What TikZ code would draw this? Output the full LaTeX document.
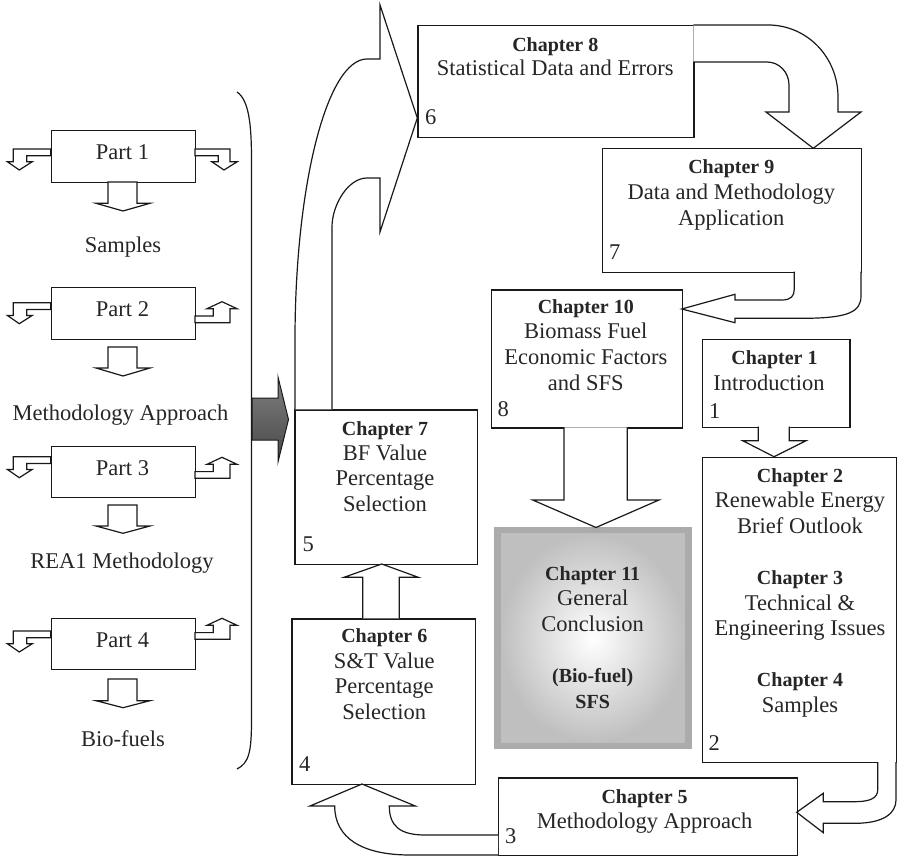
\documentclass[tikz,border=0pt]{standalone}
\usepackage{fontspec}
\setmainfont{Liberation Serif}
\usetikzlibrary{calc}
\newcommand\regf{\fontsize{22.5}{26}\selectfont}
\newcommand\hdf{\fontsize{20}{26}\selectfont\bfseries}
\tikzset{
  ln/.style={draw=black!90, line width=1.2pt},
  boxn/.style={ln, fill=white, inner sep=0pt, anchor=north west},
  arr/.style={ln, fill=white},
  tx/.style={anchor=base, inner sep=0pt, text=black!85, font=\regf},
  hd/.style={anchor=base, inner sep=0pt, text=black!85, font=\hdf},
  num/.style={anchor=base west, inner sep=0pt, text=black!85, font=\regf},
}
\newcommand\partleft[1]{%
  \draw[arr] (50.7,#1) -- (13.3,#1) -- (13.3,#1+12.7) -- (7.3,#1+12.7) -- (19.3,#1+21) -- (32.3,#1+12.7) -- (26.7,#1+12.7) -- (26.7,#1+6.7) -- (50.7,#1+6.7) -- cycle;}
\newcommand\partrightup[1]{%
  \draw[arr] (195,#1) -- (230,#1) -- (230,#1-14) -- (237,#1-14) -- (222,#1-21) -- (207,#1-14) -- (213.3,#1-14) -- (213.3,#1-6.7) -- (195,#1-6.7) -- cycle;}
\newcommand\partdown[3]{%
  \draw[arr] (108,#1) -- (108,#2) -- (96,#2) -- (123,#3) -- (150,#2) -- (137,#2) -- (137,#1) -- cycle;}
\begin{document}
\begin{tikzpicture}[x=1pt,y=-1pt]
\useasboundingbox (0,0) rectangle (898,856);

% ---------- left column: parts ----------
\node[boxn, minimum width=144.3pt, minimum height=52pt] (p1) at (50.7,130) {};
\node[boxn, minimum width=144.3pt, minimum height=52pt] (p2) at (50.7,287) {};
\node[boxn, minimum width=144.3pt, minimum height=51pt] (p3) at (50.7,446) {};
\node[boxn, minimum width=144.3pt, minimum height=51pt] (p4) at (50.7,618) {};
\node[tx] (p1t) at (122.5,159.3) {Part 1};
\node[tx] (p2t) at (122.5,316.5) {Part 2};
\node[tx] (p3t) at (122.5,475) {Part 3};
\node[tx] (p4t) at (122.5,647.3) {Part 4};

\partleft{149}
\partleft{302.7}
\partleft{456.7}
\partleft{631}
\draw[arr] (195,149) -- (230,149) -- (230,161.7) -- (237.3,161.7) -- (224,170) -- (211.7,161.7) -- (218.3,161.7) -- (218.3,155.7) -- (195,155.7) -- cycle;
\partrightup{322.7}
\partrightup{478.3}
\partrightup{639.3}
\partdown{182}{203.3}{211}
\partdown{347}{368}{376}
\partdown{505}{526}{533.3}
\partdown{679}{700.7}{707.7}

\node[tx] (l1) at (123,252) {Samples};
\node[tx] (l2) at (120.5,420) {Methodology Approach};
\node[tx] (l3) at (122,568) {REA1 Methodology};
\node[tx] (l4) at (123,746) {Bio-fuels};

% brace
\draw[ln] (237,92) .. controls (249,100) and (251.5,125) .. (251.5,160) -- (251.5,720) .. controls (251.5,752) and (249,763) .. (237,769);

% dark arrow
\shade[top color=black!50, bottom color=black!72, draw=black!90, line width=1pt]
  (252,398) -- (278,398) -- (278,377) -- (288.5,419.5) -- (278,462) -- (278,440) -- (252,440) -- cycle;

% ---------- chapter boxes ----------
\node[boxn, minimum width=276pt, minimum height=112.3pt] (c8) at (417.3,25) {};
\node[boxn, minimum width=259.5pt, minimum height=123.4pt] (c9) at (601.5,148.3) {};
\node[boxn, minimum width=191pt, minimum height=138pt] (c10) at (490.7,289.3) {};
\node[boxn, minimum width=147.6pt, minimum height=87.7pt] (c1) at (701.7,339) {};
\node[boxn, minimum width=194.3pt, minimum height=305.3pt] (c2) at (701.7,456.7) {};
\node[boxn, minimum width=182.7pt, minimum height=154.7pt] (c7) at (294.3,409.3) {};
\node[boxn, minimum width=183.9pt, minimum height=165.7pt] (c6) at (291.3,618.3) {};
\node[boxn, minimum width=298.7pt, minimum height=77.7pt] (c5) at (498,777.3) {};
\node[anchor=north west, inner sep=0pt, minimum width=197.3pt, minimum height=222.3pt, fill=black!33] (c11) at (494,526.7) {};
\shade[inner color=white, outer color=black!25] ($(c11.north west)+(7,7)$) rectangle ($(c11.south east)+(-7,-7)$);

% ---------- block arrows ----------
% 7 -> 8
\draw[arr] (295,409.3) -- (295,340) .. controls (295,185) and (327,59) .. (367,59) -- (380,59) -- (380,5) -- (417.3,118) -- (380,232) -- (380,178) -- (367,178) .. controls (348,178) and (332,205) .. (332,227) -- (332,409.3);
% 8 -> 9
\draw[arr] (693.3,25) -- (768,25) .. controls (807,25) and (838,57) .. (838,97) -- (838,112) -- (861,112) -- (813.3,148.3) -- (766,112) -- (789,112) -- (789,85) .. controls (789,72) and (779,62) .. (767,62) -- (693.3,62);
% 9 -> 10
\draw[arr] (861,271.7) -- (861,296) .. controls (861,312) and (848,318) .. (805,318.3) -- (735,318.3) -- (735,322.7) -- (681.7,309) -- (735,294.3) -- (735,300) -- (782,300) .. controls (791,300) and (794.3,296) .. (794.3,289) -- (794.3,271.7);
% 1 -> 2
\draw[arr] (758.3,426.7) -- (758.3,440.7) -- (742.7,440.7) -- (774,456.7) -- (806,440.7) -- (789.3,440.7) -- (789.3,426.7);
% 10 -> 11
\draw[arr] (564,427.3) -- (564,500) -- (532.7,500) -- (596,527.5) -- (659,500) -- (627.3,500) -- (627.3,427.3);
% 6 -> 7
\draw[arr] (362.7,618.3) -- (362.7,577.3) -- (344,577.3) -- (381.7,564) -- (418.3,577.3) -- (399.3,577.3) -- (399.3,618.3);
% 2 -> 5
\draw[arr] (877.7,762) -- (877.7,790) .. controls (877.7,798) and (870,801.7) .. (855,801.7) -- (823.3,801.7) -- (823.3,793.3) -- (796.7,812.3) -- (823.3,832.7) -- (823.3,823.3) -- (855,823.3) .. controls (884,823.3) and (896,813) .. (896,800) -- (896,762);
% 5 -> 6
\draw[arr] (498,835) -- (425,835) .. controls (400,835) and (389.3,826) .. (389.3,806) -- (415.3,806) -- (362,784) -- (310,806) -- (334.7,806) .. controls (334.7,838) and (362,855) .. (410,855) -- (498,855);

% ---------- texts ----------
\node[hd] (t8a) at (555.3,51.7) {Chapter 8};
\node[tx] (t8b) at (555.3,76) {Statistical Data and Errors};
\node[num] (n6) at (425,125) {6};

\node[hd] (t9a) at (731.3,174) {Chapter 9};
\node[tx] (t9b) at (731.3,199.6) {Data and Methodology};
\node[tx] (t9c) at (731.3,225.2) {Application};
\node[num] (n7) at (609,260) {7};

\node[hd] (t10a) at (585.8,313.3) {Chapter 10};
\node[tx] (t10b) at (585.8,338.9) {Biomass Fuel};
\node[tx] (t10c) at (585.8,364.5) {Economic Factors};
\node[tx] (t10d) at (585.8,390.1) {and SFS};
\node[num] (n8) at (497.5,416.7) {8};

\node[hd] (t1a) at (774.5,364) {Chapter 1};
\node[tx] (t1b) at (769,390) {Introduction};
\node[num] (n1) at (709,418.3) {1};

\node[hd] (t2a) at (800,482) {Chapter 2};
\node[tx] (t2b) at (800,507.6) {Renewable Energy};
\node[tx] (t2c) at (800,533.2) {Brief Outlook};
\node[hd] (t3a) at (800,584.4) {Chapter 3};
\node[tx] (t3b) at (800,610) {Technical \&};
\node[tx] (t3c) at (800,635.6) {Engineering Issues};
\node[hd] (t4a) at (800,686.8) {Chapter 4};
\node[tx] (t4b) at (800,712.4) {Samples};
\node[num] (n2) at (708.5,750) {2};

\node[hd] (t7a) at (385,435) {Chapter 7};
\node[tx] (t7b) at (385,460.3) {BF Value};
\node[tx] (t7c) at (385,485.6) {Percentage};
\node[tx] (t7d) at (385,511) {Selection};
\node[num] (n5) at (302.5,551.7) {5};

\node[hd] (t6a) at (384.3,642.7) {Chapter 6};
\node[tx] (t6b) at (384.3,668.3) {S\&T Value};
\node[tx] (t6c) at (384.3,693.9) {Percentage};
\node[tx] (t6d) at (384.3,719.5) {Selection};
\node[num] (n4) at (299,771.7) {4};

\node[hd] (t11a) at (592.7,580) {Chapter 11};
\node[tx] (t11b) at (592.7,605.6) {General};
\node[tx] (t11c) at (592.7,631.2) {Conclusion};
\node[hd] (t11d) at (592.7,682.4) {(Bio-fuel)};
\node[hd] (t11e) at (592.7,708) {SFS};

\node[hd] (t5a) at (644.6,803.3) {Chapter 5};
\node[tx] (t5b) at (644.6,828.3) {Methodology Approach};
\node[num] (n3) at (505,843.3) {3};
\end{tikzpicture}
\end{document}
